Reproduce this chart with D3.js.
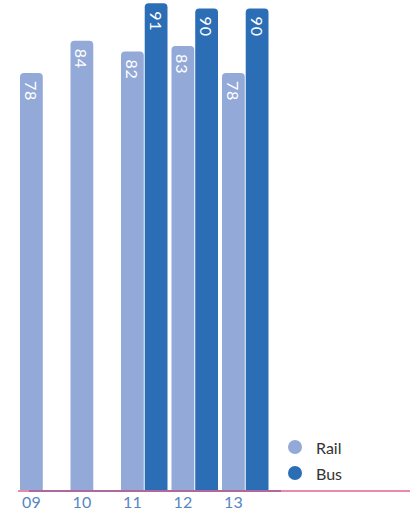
<!DOCTYPE html>
<html>
<head>
<meta charset="utf-8">
<script src="https://cdn.jsdelivr.net/npm/d3@7"></script>
<style>
  html, body { margin: 0; padding: 0; background: #fff; }
  svg { display: block; font-family: Lato, "Open Sans", sans-serif; }
</style>
</head>
<body>
<svg id="chart" width="410" height="514"></svg>
<script>
// Satisfaction scores by year
const years = ["09", "10", "11", "12", "13"];
const seriesNames = ["Rail", "Bus"];
const railValues = [78, 84, 82, 83, 78];
const busValues = [null, null, 91, 90, 90];
const seriesColors = ["#93a9d7", "#2c6eb6"];

const svg = d3.select("#chart");
const baseY = 491;

const x = d3.scaleBand().domain(years).range([20, 20 + 50.5 * years.length]);
const xs = d3.scaleBand().domain(seriesNames).range([0, 46.5]).paddingInner(0.04);
const y = d3.scaleLinear().domain([0, 100]).range([baseY, baseY - 536]);
const color = d3.scaleOrdinal().domain(seriesNames).range(seriesColors);

const rows = [];
years.forEach((yr, i) => {
  [railValues[i], busValues[i]].forEach((v, j) => {
    if (v != null) rows.push({ year: yr, series: seriesNames[j], value: v });
  });
});

// bar shape: rounded top corners, flat base
function barPath(d) {
  const x0 = x(d.year) + xs(d.series);
  const w = xs.bandwidth();
  const top = y(d.value);
  const r = 4;
  return `M${x0},${baseY}V${top + r}Q${x0},${top} ${x0 + r},${top}` +
         `H${x0 + w - r}Q${x0 + w},${top} ${x0 + w},${top + r}V${baseY}Z`;
}

svg.append("g").selectAll("path")
  .data(rows)
  .join("path")
  .attr("d", barPath)
  .attr("fill", d => color(d.series));

// value labels, rotated along each bar
svg.append("g").selectAll("text")
  .data(rows)
  .join("text")
  .attr("transform", d => `translate(${x(d.year) + xs(d.series) + xs.bandwidth() / 2},${y(d.value) + 8}) rotate(90)`)
  .attr("dominant-baseline", "central")
  .attr("fill", "#fff")
  .attr("font-size", 16)
  .attr("letter-spacing", 0.8)
  .text(d => d.value);

// baseline
svg.append("rect").attr("x", 18).attr("y", baseY - 1).attr("width", 392).attr("height", 2).attr("fill", "#e88aa8");
svg.append("rect").attr("x", 29).attr("y", baseY - 1).attr("width", 252).attr("height", 2).attr("fill", "#b0679f");

// year axis, ticks under the rail bars
const railCenter = xs("Rail") + xs.bandwidth() / 2 - x.bandwidth() / 2;
const axis = svg.append("g")
  .attr("transform", `translate(${railCenter},${baseY + 2})`)
  .call(d3.axisBottom(x).tickSize(0).tickPadding(4));
axis.select(".domain").remove();
axis.selectAll("text")
  .attr("font-family", "Lato, 'Open Sans', sans-serif")
  .attr("font-size", 16)
  .attr("fill", "#5585c4");

// legend
const legend = svg.append("g").selectAll("g")
  .data(seriesNames)
  .join("g")
  .attr("transform", (d, i) => `translate(295,${447 + i * 26})`);
legend.append("circle").attr("r", 7).attr("fill", d => color(d));
legend.append("text")
  .attr("x", 21)
  .attr("dominant-baseline", "central")
  .attr("font-size", 16)
  .attr("fill", "#333")
  .text(d => d);
</script>
</body>
</html>
